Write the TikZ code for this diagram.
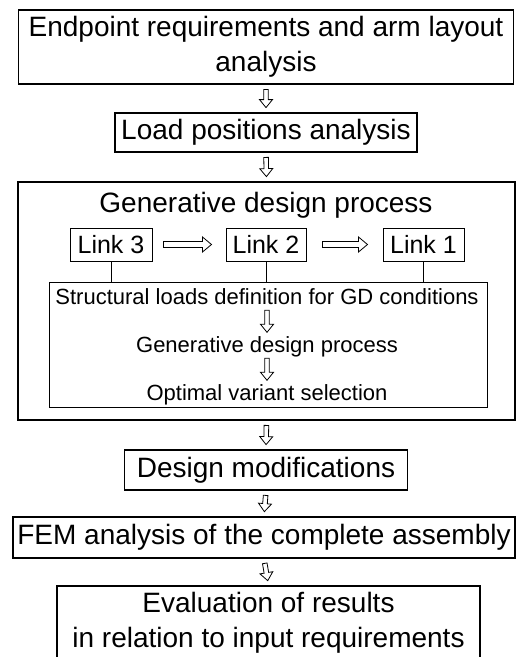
\documentclass[tikz,border=0pt]{standalone}
\usepackage{fontspec}
\setmainfont{Liberation Sans}
\usetikzlibrary{calc}
\tikzset{
  stage/.style={draw, line width=1.8pt, inner sep=0pt, align=center,
    font=\fontsize{28}{35}\selectfont},
  linkbox/.style={draw, line width=1pt, inner sep=0pt, minimum height=33,
    font=\fontsize{25}{30}\selectfont},
  substep/.style={inner sep=0pt, anchor=base, text height=16, text depth=5,
    font=\fontsize{22}{26}\selectfont},
  hollow gap a/.store in=\hollowgapa,
  hollow gap b/.store in=\hollowgapb,
  hollow gap/.style={hollow gap a=#1, hollow gap b=#1},
  hollow shaft/.store in=\hollowshaft,
  hollow head/.store in=\hollowhead,
  hollow len/.store in=\hollowlen,
  hollow gap=4.5pt, hollow shaft=2.3pt, hollow head=6.5pt, hollow len=8pt,
  hollow/.style={draw, line width=0.8pt, to path={
      ($(\tikztostart)!\hollowgapa!(\tikztotarget)$) coordinate (hs)
      ($(\tikztotarget)!\hollowgapb!(\tikztostart)$) coordinate (ht)
      ($(ht)!\hollowlen!(hs)$) coordinate (hb)
      ($(hs)!\hollowshaft!90:(ht)$) -- ($(hb)!\hollowshaft!-90:(hs)$)
      -- ($(hb)!\hollowhead!-90:(hs)$) -- (ht)
      -- ($(hb)!\hollowhead!90:(hs)$) -- ($(hb)!\hollowshaft!90:(hs)$)
      -- ($(hs)!\hollowshaft!-90:(ht)$) -- cycle}}
}
\begin{document}
\begin{tikzpicture}[x=1pt,y=-1pt]
\useasboundingbox (0,0) rectangle (516,657);
% main chain
\node[stage, minimum width=495, minimum height=74] (req) at (266,47) {Endpoint requirements and arm layout\\analysis};
\node[stage, minimum width=302, minimum height=39] (load) at (266,132.5) {Load positions analysis};
\node[stage, minimum width=497, minimum height=238] (gd) at (266.5,301) {};
\node[inner sep=0pt, anchor=base, font=\fontsize{28}{35}\selectfont] (gdtitle) at (266,212) {Generative design process};
\node[linkbox, minimum width=82] (l3) at (111,244.5) {Link 3};
\node[linkbox, minimum width=80] (l2) at (266,244.5) {Link 2};
\node[linkbox, minimum width=81] (l1) at (423.5,244.5) {Link 1};
\node[draw, line width=1pt, minimum width=438, minimum height=125] (steps) at (268,344.5) {};
\node[substep] (loads) at (267,304) {Structural loads definition for GD conditions};
\node[substep] (gen) at (267,352) {Generative design process};
\node[substep] (opt) at (267,400) {Optimal variant selection};
\node[stage, minimum width=283, minimum height=40] (mod) at (266,470) {Design modifications};
\node[stage, minimum width=502, minimum height=41] (fem) at (264,537.5) {FEM analysis of the complete assembly};
\node[stage, minimum width=423, minimum height=74] (eval) at (268.5,623) {Evaluation of results\\in relation to input requirements};
% links to the steps box
\draw[line width=1pt] (l3.south) -- (l3.south |- steps.north);
\draw[line width=1pt] (l2.south) -- (l2.south |- steps.north);
\draw[line width=1pt] (l1.south) -- (l1.south |- steps.north);
% hollow arrows
\draw[hollow] (req.south) to (load.north);
\draw[hollow] (load.south) to (gd.north);
\draw[hollow] (gd.south) to (mod.north);
\draw[hollow] (mod.south) to (fem.north);
\draw[hollow] (fem.south) to (eval.north);
\draw[hollow, hollow gap a=11pt, hollow gap b=14pt, hollow shaft=3pt, hollow head=7.5pt, hollow len=9pt] (l3.east) to (l2.west);
\draw[hollow, hollow gap a=16pt, hollow gap b=15pt, hollow shaft=3pt, hollow head=7.5pt, hollow len=9pt] (l2.east) to (l1.west);
\draw[hollow, hollow gap a=1pt, hollow gap b=3.5pt] (loads.south) to (gen.north);
\draw[hollow, hollow gap a=1pt, hollow gap b=3.5pt] (gen.south) to (opt.north);
\end{tikzpicture}
\end{document}
